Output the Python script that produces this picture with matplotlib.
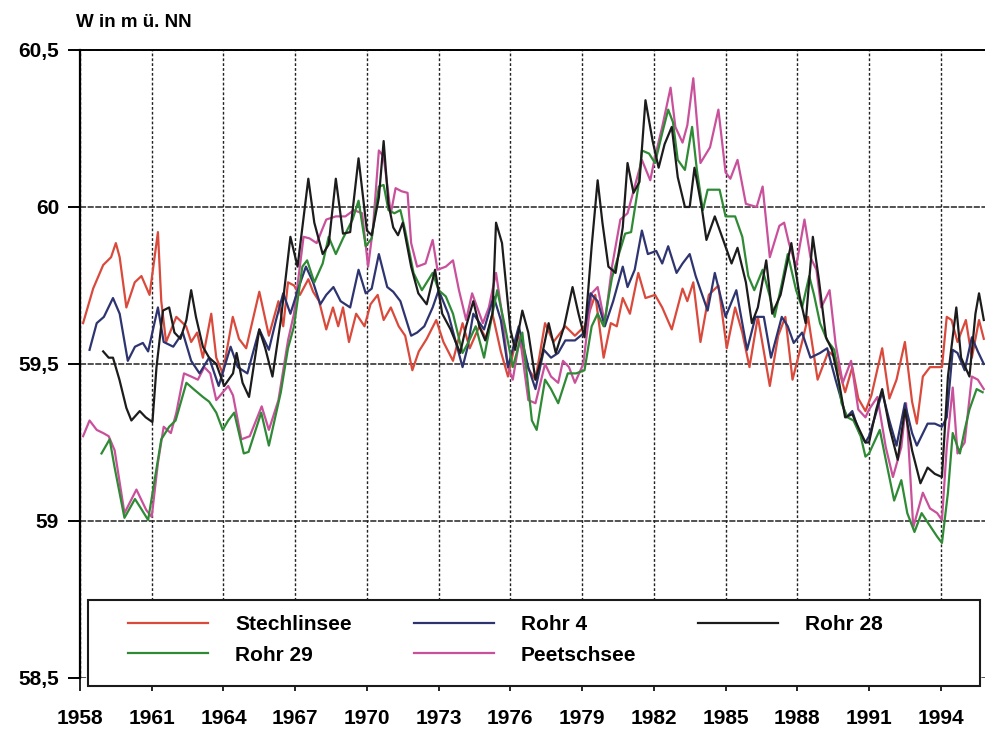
import matplotlib
import matplotlib.pyplot as plt
from matplotlib.patches import Rectangle
from matplotlib.ticker import FixedLocator, FixedFormatter

matplotlib.use('Agg')

plt.rcParams['font.family'] = ['Liberation Sans Narrow', 'Liberation Sans', 'DejaVu Sans']
plt.rcParams['font.weight'] = 'bold'

# Wasserstände (m ü. NN), Jahreswerte als Dezimaljahr
stechlin_years = [1958.13, 1958.55, 1958.97, 1959.3, 1959.5, 1959.66, 1959.94, 1960.29, 1960.57, 1960.91,
                  1961.26, 1961.4, 1961.6, 1962.03, 1962.44, 1962.65, 1962.9, 1963.14, 1963.49, 1963.7,
                  1963.97, 1964.39, 1964.65, 1964.95, 1965.5, 1965.9, 1966.3, 1966.5, 1966.7, 1966.95,
                  1967.2, 1967.55, 1967.75, 1968.0, 1968.3, 1968.58, 1968.8, 1969.0, 1969.25, 1969.55,
                  1969.9, 1970.15, 1970.45, 1970.7, 1971.0, 1971.33, 1971.6, 1971.9, 1972.17, 1972.5,
                  1972.9, 1973.2, 1973.6, 1974.0, 1974.3, 1974.7, 1975.0, 1975.25, 1975.6, 1975.9,
                  1976.3, 1976.7, 1977.05, 1977.45, 1977.8, 1978.3, 1978.7, 1979.1, 1979.55, 1979.9,
                  1980.2, 1980.45, 1980.7, 1981.0, 1981.35, 1981.65, 1982.05, 1982.35, 1982.75, 1983.2,
                  1983.4, 1983.65, 1983.95, 1984.3, 1984.7, 1985.05, 1985.4, 1985.7, 1986.0, 1986.35,
                  1986.85, 1987.2, 1987.5, 1987.8, 1988.2, 1988.45, 1988.85, 1989.3, 1989.6, 1990.0,
                  1990.3, 1990.55, 1990.85, 1991.1, 1991.55, 1991.85, 1992.15, 1992.5, 1992.8, 1993.0,
                  1993.25, 1993.55, 1994.05, 1994.25, 1994.45, 1994.7, 1995.05, 1995.3, 1995.6, 1995.8]
stechlin = [59.63, 59.74, 59.815, 59.84, 59.885, 59.84, 59.68, 59.76, 59.78, 59.72,
            59.92, 59.70, 59.57, 59.65, 59.62, 59.57, 59.60, 59.52, 59.66, 59.52,
            59.47, 59.65, 59.58, 59.55, 59.73, 59.59, 59.70, 59.62, 59.76, 59.75,
            59.72, 59.77, 59.73, 59.70, 59.61, 59.68, 59.62, 59.68, 59.57, 59.66,
            59.62, 59.69, 59.72, 59.64, 59.68, 59.62, 59.59, 59.48, 59.54, 59.58,
            59.64, 59.57, 59.51, 59.63, 59.55, 59.62, 59.58, 59.66, 59.54, 59.46,
            59.60, 59.49, 59.45, 59.63, 59.57, 59.62, 59.59, 59.62, 59.72, 59.52,
            59.63, 59.62, 59.71, 59.66, 59.79, 59.71, 59.72, 59.68, 59.61, 59.74,
            59.70, 59.76, 59.57, 59.72, 59.75, 59.55, 59.68, 59.60, 59.49, 59.65,
            59.43, 59.59, 59.65, 59.45, 59.57, 59.65, 59.45, 59.54, 59.52, 59.41,
            59.49, 59.39, 59.35, 59.40, 59.55, 59.39, 59.45, 59.57, 59.38, 59.31,
            59.46, 59.49, 59.49, 59.65, 59.64, 59.57, 59.64, 59.52, 59.64, 59.58]

rohr4_years = [1958.4, 1958.7, 1959.0, 1959.38, 1959.66, 1960.0, 1960.3, 1960.63, 1960.85, 1961.26,
               1961.5, 1961.9, 1962.3, 1962.65, 1963.0, 1963.4, 1963.8, 1964.3, 1964.6, 1965.0,
               1965.5, 1965.9, 1966.2, 1966.5, 1966.8, 1967.15, 1967.45, 1967.75, 1968.05, 1968.3,
               1968.6, 1968.9, 1969.3, 1969.65, 1969.95, 1970.2, 1970.5, 1970.85, 1971.1, 1971.4,
               1971.85, 1972.1, 1972.4, 1972.75, 1973.0, 1973.4, 1974.0, 1974.2, 1974.45, 1974.9,
               1975.3, 1975.6, 1975.9, 1976.35, 1976.75, 1977.05, 1977.4, 1977.7, 1978.0, 1978.3,
               1978.7, 1979.1, 1979.35, 1979.65, 1979.95, 1980.3, 1980.7, 1980.9, 1981.2, 1981.5,
               1981.75, 1982.1, 1982.35, 1982.6, 1982.95, 1983.2, 1983.5, 1983.75, 1984.0, 1984.25,
               1984.55, 1985.0, 1985.45, 1985.9, 1986.25, 1986.6, 1986.9, 1987.35, 1987.6, 1987.85,
               1988.2, 1988.55, 1988.95, 1989.25, 1989.6, 1990.05, 1990.3, 1990.6, 1990.85, 1991.0,
               1991.3, 1991.55, 1991.85, 1992.15, 1992.5, 1992.8, 1993.0, 1993.45, 1993.75, 1994.05,
               1994.25, 1994.5, 1994.7, 1995.0, 1995.3, 1995.55, 1995.8]
rohr4 = [59.545, 59.63, 59.65, 59.71, 59.66, 59.51, 59.555, 59.567, 59.54, 59.68,
         59.57, 59.555, 59.60, 59.51, 59.47, 59.52, 59.43, 59.555, 59.49, 59.47,
         59.61, 59.545, 59.64, 59.725, 59.66, 59.745, 59.81, 59.76, 59.69, 59.72,
         59.745, 59.70, 59.68, 59.80, 59.725, 59.74, 59.85, 59.745, 59.73, 59.70,
         59.59, 59.60, 59.62, 59.68, 59.735, 59.66, 59.49, 59.55, 59.66, 59.61,
         59.715, 59.64, 59.49, 59.62, 59.49, 59.42, 59.545, 59.52, 59.535, 59.575,
         59.575, 59.60, 59.725, 59.70, 59.62, 59.70, 59.81, 59.745, 59.80, 59.925,
         59.85, 59.86, 59.82, 59.875, 59.79, 59.82, 59.85, 59.78, 59.725, 59.67,
         59.79, 59.65, 59.735, 59.545, 59.65, 59.65, 59.52, 59.65, 59.62, 59.567,
         59.60, 59.52, 59.535, 59.55, 59.45, 59.33, 59.35, 59.28, 59.25, 59.27,
         59.345, 59.41, 59.32, 59.24, 59.375, 59.28, 59.24, 59.31, 59.31, 59.30,
         59.33, 59.545, 59.535, 59.48, 59.585, 59.54, 59.50]

rohr28_years = [1958.97, 1959.2, 1959.38, 1959.65, 1959.94, 1960.15, 1960.5, 1960.75, 1961.03, 1961.2,
                1961.47, 1961.73, 1961.95, 1962.2, 1962.45, 1962.65, 1962.85, 1963.14, 1963.4, 1963.7,
                1964.03, 1964.4, 1964.55, 1964.8, 1965.07, 1965.5, 1965.75, 1966.05, 1966.4, 1966.8,
                1967.1, 1967.55, 1967.8, 1968.15, 1968.4, 1968.7, 1969.0, 1969.3, 1969.65, 1970.0,
                1970.2, 1970.5, 1970.7, 1970.9, 1971.1, 1971.3, 1971.5, 1971.85, 1972.15, 1972.5,
                1972.85, 1973.15, 1973.5, 1973.9, 1974.15, 1974.45, 1974.7, 1974.95, 1975.25, 1975.4,
                1975.65, 1976.0, 1976.2, 1976.5, 1976.75, 1977.05, 1977.3, 1977.6, 1977.9, 1978.25,
                1978.6, 1978.85, 1979.1, 1979.4, 1979.65, 1979.85, 1980.1, 1980.4, 1980.7, 1980.9,
                1981.15, 1981.4, 1981.65, 1981.95, 1982.2, 1982.45, 1982.75, 1983.0, 1983.3, 1983.5,
                1983.7, 1984.0, 1984.2, 1984.55, 1984.9, 1985.25, 1985.5, 1985.85, 1986.1, 1986.35,
                1986.7, 1986.95, 1987.3, 1987.75, 1988.1, 1988.35, 1988.65, 1988.9, 1989.2, 1989.45,
                1989.75, 1990.0, 1990.3, 1990.6, 1990.85, 1991.0, 1991.3, 1991.55, 1991.85, 1992.2,
                1992.5, 1992.8, 1993.15, 1993.45, 1993.75, 1994.05, 1994.3, 1994.65, 1994.85, 1995.2,
                1995.45, 1995.6, 1995.8]
rohr28 = [59.54, 59.52, 59.52, 59.45, 59.36, 59.32, 59.35, 59.33, 59.315, 59.49,
          59.67, 59.68, 59.60, 59.58, 59.64, 59.735, 59.65, 59.555, 59.52, 59.50,
          59.43, 59.47, 59.535, 59.44, 59.395, 59.61, 59.55, 59.46, 59.64, 59.905,
          59.81, 60.09, 59.95, 59.85, 59.88, 60.09, 59.915, 59.92, 60.155, 59.925,
          59.91, 60.03, 60.21, 60.01, 59.935, 59.91, 59.95, 59.81, 59.725, 59.69,
          59.80, 59.66, 59.61, 59.535, 59.62, 59.70, 59.62, 59.575, 59.66, 59.95,
          59.885, 59.61, 59.545, 59.67, 59.60, 59.45, 59.52, 59.63, 59.535, 59.62,
          59.745, 59.66, 59.585, 59.875, 60.085, 59.95, 59.81, 59.79, 59.935, 60.14,
          60.045, 60.08, 60.34, 60.21, 60.125, 60.20, 60.255, 60.095, 60.0, 60.0,
          60.125, 60.0, 59.895, 59.97, 59.895, 59.82, 59.87, 59.76, 59.63, 59.68,
          59.83, 59.66, 59.72, 59.885, 59.715, 59.63, 59.905, 59.77, 59.585, 59.545,
          59.44, 59.33, 59.34, 59.29, 59.25, 59.25, 59.355, 59.42, 59.30, 59.195,
          59.355, 59.225, 59.12, 59.17, 59.15, 59.14, 59.46, 59.68, 59.52, 59.46,
          59.66, 59.725, 59.64]

rohr29_years = [1958.9, 1959.24, 1959.45, 1959.86, 1960.3, 1960.55, 1960.85, 1961.1, 1961.4, 1961.73,
                1962.0, 1962.45, 1962.75, 1963.14, 1963.4, 1963.7, 1963.97, 1964.2, 1964.45, 1964.85,
                1965.05, 1965.58, 1965.9, 1966.4, 1966.7, 1966.95, 1967.3, 1967.5, 1967.8, 1968.15,
                1968.4, 1968.7, 1969.0, 1969.4, 1969.65, 1969.95, 1970.2, 1970.5, 1970.7, 1970.9,
                1971.15, 1971.4, 1971.6, 1971.95, 1972.3, 1972.75, 1973.0, 1973.3, 1973.6, 1974.0,
                1974.25, 1974.55, 1974.9, 1975.25, 1975.45, 1975.8, 1976.1, 1976.5, 1976.9, 1977.1,
                1977.45, 1977.7, 1978.0, 1978.4, 1978.75, 1979.1, 1979.4, 1979.65, 1979.9, 1980.25,
                1980.5, 1980.8, 1981.05, 1981.35, 1981.5, 1981.8, 1982.05, 1982.35, 1982.6, 1982.8,
                1983.0, 1983.3, 1983.6, 1983.8, 1984.05, 1984.25, 1984.75, 1985.0, 1985.4, 1985.7,
                1985.95, 1986.2, 1986.55, 1986.85, 1987.05, 1987.35, 1987.6, 1987.95, 1988.2, 1988.5,
                1988.7, 1988.95, 1989.25, 1989.55, 1989.85, 1990.1, 1990.35, 1990.65, 1990.85, 1991.0,
                1991.45, 1991.7, 1992.05, 1992.35, 1992.6, 1992.9, 1993.2, 1993.5, 1993.85, 1994.05,
                1994.3, 1994.5, 1994.8, 1995.0, 1995.2, 1995.5, 1995.75]
rohr29 = [59.215, 59.26, 59.17, 59.01, 59.07, 59.04, 59.003, 59.12, 59.26, 59.30,
          59.32, 59.44, 59.42, 59.395, 59.38, 59.345, 59.29, 59.32, 59.345, 59.215,
          59.22, 59.345, 59.24, 59.41, 59.55, 59.62, 59.81, 59.83, 59.76, 59.82,
          59.905, 59.85, 59.90, 59.96, 60.02, 59.875, 59.90, 60.065, 60.07, 59.99,
          59.98, 59.99, 59.925, 59.79, 59.735, 59.79, 59.735, 59.715, 59.66, 59.535,
          59.57, 59.62, 59.52, 59.66, 59.735, 59.61, 59.49, 59.60, 59.32, 59.29,
          59.45, 59.42, 59.375, 59.47, 59.47, 59.48, 59.62, 59.66, 59.62, 59.775,
          59.84, 59.915, 59.92, 60.065, 60.18, 60.17, 60.14, 60.235, 60.31, 60.27,
          60.15, 60.118, 60.255, 60.118, 59.99, 60.055, 60.055, 59.97, 59.97, 59.905,
          59.78, 59.735, 59.80, 59.715, 59.65, 59.755, 59.85, 59.735, 59.68, 59.78,
          59.72, 59.63, 59.575, 59.545, 59.375, 59.33, 59.32, 59.27, 59.205, 59.215,
          59.29, 59.195, 59.065, 59.13, 59.025, 58.965, 59.025, 58.99, 58.95, 58.93,
          59.09, 59.28, 59.215, 59.29, 59.355, 59.42, 59.41]

peetsch_years = [1958.13, 1958.4, 1958.7, 1958.97, 1959.2, 1959.45, 1959.86, 1960.36, 1960.77, 1961.0,
                 1961.26, 1961.5, 1961.8, 1962.03, 1962.35, 1962.65, 1962.93, 1963.2, 1963.45, 1963.7,
                 1963.98, 1964.2, 1964.4, 1964.75, 1965.1, 1965.6, 1965.9, 1966.3, 1966.7, 1966.95,
                 1967.35, 1967.6, 1967.9, 1968.3, 1968.7, 1969.1, 1969.45, 1969.8, 1970.05, 1970.25,
                 1970.5, 1970.7, 1971.0, 1971.2, 1971.45, 1971.7, 1971.85, 1972.1, 1972.45, 1972.75,
                 1972.95, 1973.3, 1973.6, 1973.85, 1974.15, 1974.4, 1974.85, 1975.1, 1975.4, 1975.65,
                 1975.9, 1976.1, 1976.4, 1976.75, 1977.05, 1977.45, 1977.7, 1978.0, 1978.2, 1978.45,
                 1978.7, 1979.05, 1979.4, 1979.65, 1979.95, 1980.25, 1980.6, 1980.9, 1981.2, 1981.5,
                 1981.85, 1982.05, 1982.35, 1982.7, 1982.9, 1983.2, 1983.4, 1983.65, 1983.95, 1984.35,
                 1984.7, 1985.0, 1985.2, 1985.5, 1985.85, 1986.3, 1986.55, 1986.85, 1987.25, 1987.45,
                 1987.65, 1987.95, 1988.3, 1988.55, 1988.8, 1989.0, 1989.35, 1989.6, 1989.9, 1990.25,
                 1990.55, 1990.85, 1991.0, 1991.35, 1991.7, 1992.0, 1992.35, 1992.55, 1992.85, 1993.25,
                 1993.55, 1993.85, 1994.05, 1994.25, 1994.5, 1994.7, 1995.0, 1995.3, 1995.55, 1995.8]
peetsch = [59.27, 59.32, 59.29, 59.28, 59.27, 59.225, 59.025, 59.10, 59.035, 59.013,
           59.185, 59.30, 59.28, 59.345, 59.47, 59.46, 59.45, 59.49, 59.47, 59.385,
           59.41, 59.43, 59.40, 59.26, 59.27, 59.365, 59.29, 59.385, 59.575, 59.66,
           59.905, 59.90, 59.885, 59.96, 59.97, 59.97, 59.99, 59.98, 59.81, 59.93,
           60.18, 60.16, 59.98, 60.06, 60.05, 60.045, 59.885, 59.81, 59.82, 59.895,
           59.80, 59.81, 59.83, 59.735, 59.64, 59.725, 59.63, 59.68, 59.79, 59.66,
           59.49, 59.45, 59.585, 59.385, 59.375, 59.50, 59.46, 59.44, 59.51, 59.49,
           59.44, 59.50, 59.725, 59.745, 59.63, 59.81, 59.96, 59.98, 60.065, 60.15,
           60.085, 60.16, 60.255, 60.38, 60.255, 60.205, 60.26, 60.41, 60.14, 60.19,
           60.31, 60.11, 60.09, 60.15, 60.01, 60.0, 60.065, 59.84, 59.94, 59.95,
           59.885, 59.81, 59.96, 59.84, 59.80, 59.68, 59.735, 59.565, 59.44, 59.51,
           59.355, 59.33, 59.355, 59.395, 59.235, 59.14, 59.235, 59.375, 58.98, 59.09,
           59.04, 59.025, 59.003, 59.235, 59.425, 59.215, 59.25, 59.46, 59.45, 59.42]

year_ticks = list(range(1958, 1995, 3))
level_ticks = [58.5, 59.0, 59.5, 60.0, 60.5]
level_labels = ['58,5', '59', '59,5', '60', '60,5']

fig = plt.figure(figsize=(9.85, 7.35), dpi=100)
ax = fig.add_axes([0.0812, 0.0776, 0.9188, 0.8544])

lw = 1.6
ax.plot(stechlin_years, stechlin, color='#d94a3c', lw=lw, label='Stechlinsee')
ax.plot(peetsch_years, peetsch, color='#c9519b', lw=lw, label='Peetschsee')
ax.plot(rohr4_years, rohr4, color='#2e3470', lw=lw, label='Rohr 4')
ax.plot(rohr29_years, rohr29, color='#2f8a35', lw=lw, label='Rohr 29')
ax.plot(rohr28_years, rohr28, color='#1c1c1c', lw=lw, label='Rohr 28')

ax.set_xlim(1958, 1995.85)
ax.set_ylim(58.5, 60.5)

ax.xaxis.set_major_locator(FixedLocator(year_ticks))
ax.yaxis.set_major_locator(FixedLocator(level_ticks))
ax.yaxis.set_major_formatter(FixedFormatter(level_labels))

ax.xaxis.grid(True, color='#222222', linestyle=(0, (2, 1.5)), linewidth=1.0)
ax.yaxis.grid(True, color='#222222', linestyle=(0, (4, 1)), linewidth=1.1)
ax.set_axisbelow(True)

for side in ['right', 'bottom']:
    ax.spines[side].set_visible(False)
ax.spines['left'].set_linewidth(1.6)
ax.spines['top'].set_linewidth(1.4)

ax.tick_params(axis='y', direction='out', length=9, width=1.4, pad=6, labelsize=15)
ax.tick_params(axis='x', direction='out', length=9, width=1.2, pad=13, labelsize=15)
for lbl in ax.get_xticklabels() + ax.get_yticklabels():
    lbl.set_fontweight('bold')

fig.text(0.077, 0.97, 'W in m ü. NN', fontsize=13.5, fontweight='bold', va='center', ha='left')

# Legendenkasten
box = Rectangle((8 / 905, -0.013), 892 / 905, 0.137, transform=ax.transAxes,
                facecolor='white', edgecolor='#1a1a1a', linewidth=1.5, zorder=5, clip_on=False)
ax.add_patch(box)

handles, labels = ax.get_legend_handles_labels()
order = ['Stechlinsee', 'Rohr 29', 'Rohr 4', 'Peetschsee', 'Rohr 28']
hmap = dict(zip(labels, handles))
leg = ax.legend([hmap[k] for k in order], order, ncol=3, frameon=False,
                loc='lower left', bbox_to_anchor=(0.044, 0.008),
                fontsize=15, handlelength=3.85, handletextpad=1.3,
                columnspacing=2.95, labelspacing=0.55, borderaxespad=0)
leg.set_zorder(6)
for t in leg.get_texts():
    t.set_fontweight('bold')

fig.savefig('out.png', dpi=100, facecolor='white')
